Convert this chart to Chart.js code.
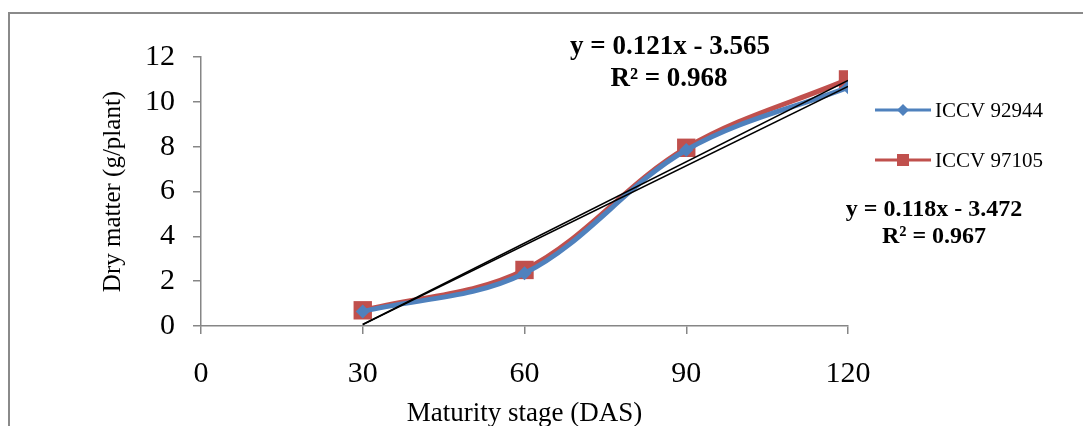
<!DOCTYPE html>
<html lang="en">
    <head>
        <meta charset="UTF-8">
        <title>Dry matter by maturity stage</title>
        <script src="https://cdn.jsdelivr.net/npm/chart.js"></script>
        <style>
            body {
                margin: 0;
                background-color: #fff;
                overflow: hidden;
            }
            .frame {
                position: absolute;
                left: 8px;
                top: 12px;
                width: 1200px;
                height: 600px;
                border-left: 2px solid #8a8a8a;
                border-top: 2px solid #8a8a8a;
            }
            .chart-container {
                position: absolute;
                left: 0;
                top: 0;
                width: 1083px;
                height: 426px;
            }
        </style>
    </head>
<body>
    <div class="frame"></div>
    <div class="chart-container">
        <canvas id="chartCanvas" width="1083" height="426"></canvas>
    </div>
    <script>
        // days after sowing
        const stages = [30, 60, 90, 120];
        const xTicks = [0, 30, 60, 90, 120];
        const iccv92944 = [0.65, 2.35, 7.85, 10.65];
        const iccv97105 = [0.7, 2.5, 7.95, 11.0];

        // linear trendlines as printed on the chart
        const trendSlope = [0.118, 0.121];
        const trendIntercept = [-3.472, -3.565];
        const trendR2 = [0.967, 0.968];

        const blue = '#4F81BD';
        const red = '#C0504D';
        const axisGray = '#868686';
        const serif = '"Liberation Serif", "Times New Roman", serif';

        const toPoints = ys => stages.map((x, i) => ({ x: x, y: ys[i] }));
        const trendPoints = k => [stages[0], stages[stages.length - 1]]
            .map(x => ({ x: x, y: trendSlope[k] * x + trendIntercept[k] }));

        const eqText = k => 'y = ' + trendSlope[k].toFixed(3) + 'x - ' + Math.abs(trendIntercept[k]).toFixed(3);
        const r2Text = k => 'R\u00b2 = ' + trendR2[k].toFixed(3);

        // equation labels + legend drawn on top
        const extras = {
            id: 'extras',
            afterDraw(chart) {
                const ctx = chart.ctx;
                ctx.save();
                ctx.fillStyle = '#000';
                ctx.textAlign = 'center';
                ctx.textBaseline = 'middle';
                ctx.font = 'bold 27px ' + serif;
                ctx.fillText(eqText(1), 670, 47);
                ctx.fillText(r2Text(1), 669, 79);
                ctx.font = 'bold 24px ' + serif;
                ctx.fillText(eqText(0), 934, 210);
                ctx.fillText(r2Text(0), 934, 237);

                const items = [
                    { label: 'ICCV 92944', color: blue, y: 110, marker: 'diamond' },
                    { label: 'ICCV 97105', color: red, y: 160, marker: 'square' }
                ];
                items.forEach(it => {
                    ctx.strokeStyle = it.color;
                    ctx.fillStyle = it.color;
                    ctx.lineWidth = 3;
                    ctx.beginPath();
                    ctx.moveTo(875, it.y);
                    ctx.lineTo(931, it.y);
                    ctx.stroke();
                    ctx.beginPath();
                    if (it.marker === 'diamond') {
                        ctx.moveTo(903, it.y - 6);
                        ctx.lineTo(909, it.y);
                        ctx.lineTo(903, it.y + 6);
                        ctx.lineTo(897, it.y);
                        ctx.closePath();
                        ctx.fill();
                    } else {
                        ctx.fillRect(897, it.y - 6, 12, 12);
                    }
                    ctx.fillStyle = '#000';
                    ctx.textAlign = 'left';
                    ctx.font = '21px ' + serif;
                    ctx.fillText(it.label, 935, it.y + 1);
                });
                ctx.restore();
            }
        };

        const ctx = document.getElementById('chartCanvas').getContext('2d');
        new Chart(ctx, {
            type: 'line',
            data: {
                datasets: [
                    {
                        label: 'Linear (ICCV 92944)',
                        data: trendPoints(0),
                        borderColor: '#000',
                        borderWidth: 1.5,
                        pointRadius: 0,
                        tension: 0
                    },
                    {
                        label: 'Linear (ICCV 97105)',
                        data: trendPoints(1),
                        borderColor: '#000',
                        borderWidth: 1.5,
                        pointRadius: 0,
                        tension: 0
                    },
                    {
                        label: 'ICCV 92944',
                        data: toPoints(iccv92944),
                        borderColor: blue,
                        backgroundColor: blue,
                        borderWidth: 5,
                        pointStyle: 'rectRot',
                        pointRadius: 7,
                        pointBorderWidth: 0,
                        tension: 0.35
                    },
                    {
                        label: 'ICCV 97105',
                        data: toPoints(iccv97105),
                        borderColor: red,
                        backgroundColor: red,
                        borderWidth: 5,
                        pointStyle: 'rect',
                        pointRadius: 13,
                        pointBorderWidth: 0,
                        tension: 0.35
                    }
                ]
            },
            options: {
                responsive: false,
                animation: false,
                layout: {
                    padding: { left: 0, top: 57, right: 235, bottom: 0 }
                },
                plugins: {
                    legend: { display: false },
                    tooltip: { enabled: false }
                },
                scales: {
                    x: {
                        type: 'linear',
                        min: 0,
                        max: 120,
                        afterFit: s => { s.height = 100; },
                        afterBuildTicks: s => { s.ticks = xTicks.map(v => ({ value: v })); },
                        grid: {
                            drawOnChartArea: false,
                            color: axisGray,
                            tickLength: 8,
                            lineWidth: 1.5
                        },
                        border: { color: axisGray, width: 1.5 },
                        ticks: {
                            color: '#000',
                            padding: 22,
                            maxRotation: 0,
                            font: { family: serif, size: 30 }
                        },
                        title: {
                            display: true,
                            text: 'Maturity stage (DAS)',
                            color: '#000',
                            padding: { top: 0, bottom: -4 },
                            font: { family: serif, size: 27 }
                        }
                    },
                    y: {
                        min: 0,
                        max: 12,
                        afterFit: s => { s.width = 201; },
                        grid: {
                            drawOnChartArea: false,
                            color: axisGray,
                            tickLength: 8,
                            lineWidth: 1.5
                        },
                        border: { color: axisGray, width: 1.5 },
                        ticks: {
                            stepSize: 2,
                            color: '#000',
                            padding: 18,
                            font: { family: serif, size: 30 }
                        },
                        title: {
                            display: true,
                            text: 'Dry matter (g/plant)',
                            color: '#000',
                            padding: { top: 98, bottom: 0 },
                            font: { family: serif, size: 25 }
                        }
                    }
                }
            },
            plugins: [extras]
        });
    </script>
</body>
</html>
